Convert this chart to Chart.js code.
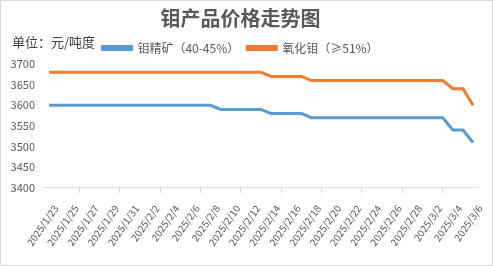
<!DOCTYPE html>
<html>
<head>
<meta charset="utf-8">
<script src="https://cdn.jsdelivr.net/npm/chart.js@4.4.0/dist/chart.umd.min.js"></script>
<style>
  html, body { margin: 0; padding: 0; background: #fff; }
  #wrap { position: relative; width: 493px; height: 266px; }
  #unit {
    position: absolute; left: 12px; top: 32px;
    font: 13px "Noto Sans CJK SC", sans-serif; color: #404040;
  }
</style>
</head>
<body>
<div id="wrap">
  <canvas id="priceChart" width="493" height="266"></canvas>
  <div id="unit">单位：元/吨度</div>
</div>
<script>
// ===================== Data ===================

const dates = [
  '2025/1/23', '2025/1/24', '2025/1/25', '2025/1/26', '2025/1/27', '2025/1/28', '2025/1/29', '2025/1/30', '2025/1/31',
  '2025/2/1', '2025/2/2', '2025/2/3', '2025/2/4', '2025/2/5', '2025/2/6', '2025/2/7', '2025/2/8', '2025/2/9',
  '2025/2/10', '2025/2/11', '2025/2/12', '2025/2/13', '2025/2/14', '2025/2/15', '2025/2/16', '2025/2/17',
  '2025/2/18', '2025/2/19', '2025/2/20', '2025/2/21', '2025/2/22', '2025/2/23', '2025/2/24', '2025/2/25',
  '2025/2/26', '2025/2/27', '2025/2/28', '2025/3/1', '2025/3/2', '2025/3/3', '2025/3/4', '2025/3/5', '2025/3/6'
];

// 钼精矿（40-45%）
const concentratePrices = [
  3600, 3600, 3600, 3600, 3600, 3600, 3600, 3600, 3600,
  3600, 3600, 3600, 3600, 3600, 3600, 3600, 3600, 3590,
  3590, 3590, 3590, 3590, 3580, 3580, 3580, 3580,
  3570, 3570, 3570, 3570, 3570, 3570, 3570, 3570,
  3570, 3570, 3570, 3570, 3570, 3570, 3540, 3540, 3510
];

// 氧化钼（≥51%）
const oxidePrices = [
  3680, 3680, 3680, 3680, 3680, 3680, 3680, 3680, 3680,
  3680, 3680, 3680, 3680, 3680, 3680, 3680, 3680, 3680,
  3680, 3680, 3680, 3680, 3670, 3670, 3670, 3670,
  3660, 3660, 3660, 3660, 3660, 3660, 3660, 3660,
  3660, 3660, 3660, 3660, 3660, 3660, 3640, 3640, 3600
];

const yTicks = { min: 3400, max: 3700, step: 50 };

// ===================== Chart ===================

const CJK = '"Noto Sans CJK SC", sans-serif';
const textColor = '#595959';
const axisColor = '#d9d9d9';

const chartBorder = {
  id: 'chartBorder',
  beforeDraw(chart) {
    const ctx = chart.ctx;
    ctx.save();
    ctx.fillStyle = '#fff';
    ctx.fillRect(0, 0, chart.width, chart.height);
    ctx.strokeStyle = axisColor;
    ctx.lineWidth = 1;
    ctx.strokeRect(0.5, 0.5, chart.width - 1, chart.height - 1);
    ctx.restore();
  }
};

function makeDataset(label, data, color) {
  return {
    label: label,
    data: data,
    borderColor: color,
    backgroundColor: color,
    borderWidth: 3,
    pointRadius: 0,
    tension: 0
  };
}

new Chart(document.getElementById('priceChart'), {
  type: 'line',
  data: {
    labels: dates,
    datasets: [
      makeDataset('钼精矿（40-45%）', concentratePrices, '#5b9bd5'),
      makeDataset('氧化钼（≥51%）', oxidePrices, '#ed7d31')
    ]
  },
  plugins: [chartBorder],
  options: {
    responsive: false,
    animation: false,
    layout: { padding: { left: 0, right: 12, top: 0, bottom: 8 } },
    plugins: {
      title: {
        display: true,
        text: '钼产品价格走势图',
        color: textColor,
        font: { family: CJK, size: 20, weight: 'bold' },
        padding: { top: 6, bottom: 4 }
      },
      legend: {
        display: true,
        labels: {
          boxWidth: 29,
          boxHeight: 3,
          color: textColor,
          font: { family: CJK, size: 12 },
          padding: 8
        }
      },
      tooltip: { enabled: false }
    },
    scales: {
      x: {
        offset: true,
        grid: {
          offset: true,
          drawOnChartArea: false,
          drawTicks: true,
          tickLength: 5,
          color: ctx => ctx.index % 2 === 0 ? axisColor : 'rgba(0,0,0,0)'
        },
        border: { color: axisColor },
        ticks: {
          autoSkip: false,
          maxRotation: 55,
          minRotation: 55,
          color: textColor,
          font: { family: CJK, size: 10 },
          padding: 10,
          labelOffset: 7,
          callback: (value, i) => i % 2 === 0 ? dates[i] : null
        }
      },
      y: {
        min: yTicks.min,
        max: yTicks.max,
        grid: { display: false, drawTicks: false },
        border: { display: false },
        afterFit: scale => { scale.width = 44; },
        ticks: {
          stepSize: yTicks.step,
          color: textColor,
          font: { family: CJK, size: 11 },
          padding: 9,
          callback: value => String(value)
        }
      }
    }
  }
});
</script>
</body>
</html>
